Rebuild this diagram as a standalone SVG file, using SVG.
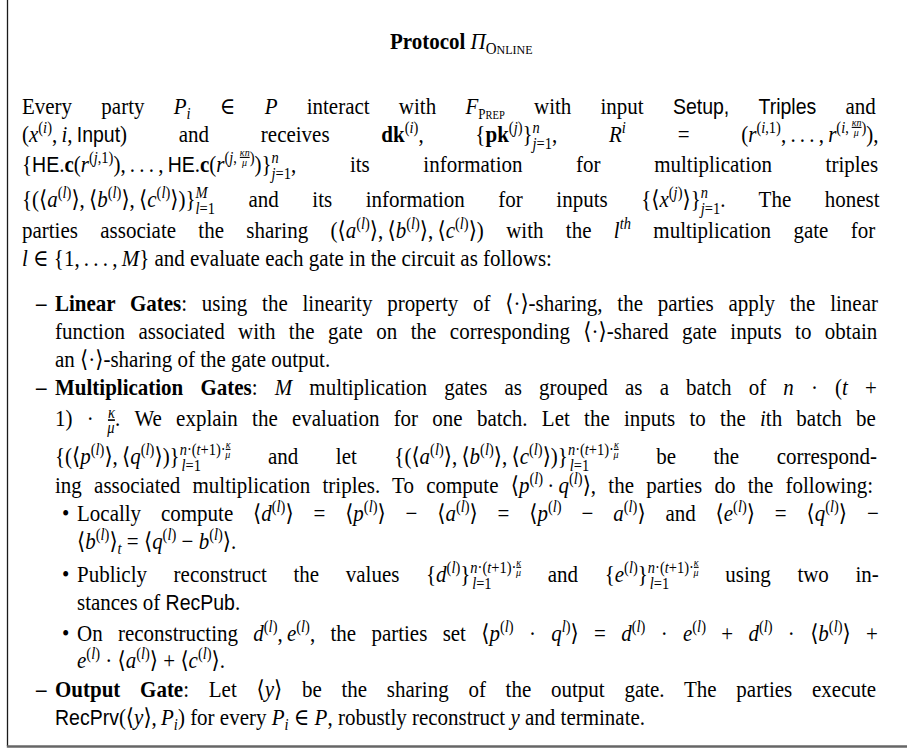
<svg xmlns="http://www.w3.org/2000/svg" width="907" height="749" viewBox="0 0 907 749">
<style>
text{font-family:"Liberation Serif","Times New Roman","DejaVu Serif","DejaVu Sans",serif;font-size:21px;fill:#000}
.i{font-style:italic}
.b{font-weight:bold}
.sf{font-family:"Liberation Sans",Arial,"DejaVu Sans",sans-serif;font-size:19.5px;font-style:normal}
.s{font-size:14.5px}
.ss{font-size:10px}
.u{text-decoration:underline}
</style>
<rect width="907" height="749" fill="#fff"/>
<g id="frame">
<line x1="7.5" y1="0" x2="7.5" y2="746" stroke="#1a1a1a" stroke-width="1.3"/>
<line x1="6.8" y1="746.5" x2="907" y2="746.5" stroke="#666" stroke-width="2.6"/>
</g>
<g id="content" transform="matrix(1 0 0 1.12 0 0)">
<g id="title">
<text x="390" y="43.8"><tspan class="b">Protocol </tspan><tspan class="i">Π</tspan><tspan y="47.8" font-size="15">O</tspan><tspan font-size="12">NLINE</tspan></text>
</g>
<g id="intro">
<text x="22" y="101.8" word-spacing="24">Every party <tspan class="i">P</tspan><tspan class="i s" y="106.3">i</tspan><tspan y="101.8"> ∈ </tspan><tspan class="i">P</tspan> interact with <tspan class="i">F</tspan><tspan y="106.3" font-size="13">P</tspan><tspan font-size="10.5">REP</tspan><tspan y="101.8"> with input </tspan><tspan class="sf">Setup,</tspan> <tspan class="sf">Triples</tspan> and</text>
<text x="22" y="126.8" word-spacing="46.5">(<tspan class="i">x</tspan><tspan class="s" y="118.8">(</tspan><tspan class="s i">i</tspan><tspan class="s">)</tspan><tspan y="126.8">,&#8201;</tspan><tspan class="i">i</tspan>,&#8201;<tspan class="sf">Input</tspan>) and receives <tspan class="b">dk</tspan><tspan class="s" y="118.8">(</tspan><tspan class="s i">i</tspan><tspan class="s">)</tspan><tspan y="126.8">, {</tspan><tspan class="b">pk</tspan><tspan class="s" y="118.8">(</tspan><tspan class="s i">j</tspan><tspan class="s">)</tspan><tspan y="126.8">}</tspan><tspan class="s i" y="118.8">n</tspan><tspan class="s" y="132.8" dx="-7.25"><tspan class="i">j</tspan>=1</tspan><tspan y="126.8">, </tspan><tspan class="i">R</tspan><tspan class="s i" y="118.8">i</tspan><tspan y="126.8"> = (</tspan><tspan class="i">r</tspan><tspan class="s" y="118.8">(</tspan><tspan class="s i">i</tspan><tspan class="s">,1)</tspan><tspan y="126.8">,&#8201;.&#8201;.&#8201;.&#8201;,&#8201;</tspan><tspan class="i">r</tspan><tspan class="s" y="118.8">(</tspan><tspan class="s i">i</tspan><tspan class="s">,&#8201;</tspan><tspan class="ss i u" y="112.3">κn</tspan><tspan class="ss i" y="121.3" dx="-7.75">μ</tspan><tspan class="s" y="118.8" dx="2.75">)</tspan><tspan y="126.8">),</tspan></text>
<text x="22" y="153.6" word-spacing="48.4">{<tspan class="sf">HE</tspan>.<tspan class="b">c</tspan>(<tspan class="i">r</tspan><tspan class="s" y="145.6">(</tspan><tspan class="s i">j</tspan><tspan class="s">,1)</tspan><tspan y="153.6">),&#8201;.&#8201;.&#8201;.&#8201;,&#8201;</tspan><tspan class="sf">HE</tspan>.<tspan class="b">c</tspan>(<tspan class="i">r</tspan><tspan class="s" y="145.6">(</tspan><tspan class="s i">j</tspan><tspan class="s">,&#8201;</tspan><tspan class="ss i u" y="139.1">κn</tspan><tspan class="ss i" y="148.1" dx="-7.75">μ</tspan><tspan class="s" y="145.6" dx="2.75">)</tspan><tspan y="153.6">)}</tspan><tspan class="s i" y="145.6">n</tspan><tspan class="s" y="159.6" dx="-7.25"><tspan class="i">j</tspan>=1</tspan><tspan y="153.6">, its information for multiplication triples</tspan></text>
<text x="22" y="184.8" word-spacing="28.3">{(⟨<tspan class="i">a</tspan><tspan class="s" y="176.8">(</tspan><tspan class="s i">l</tspan><tspan class="s">)</tspan><tspan y="184.8">⟩,&#8201;⟨</tspan><tspan class="i">b</tspan><tspan class="s" y="176.8">(</tspan><tspan class="s i">l</tspan><tspan class="s">)</tspan><tspan y="184.8">⟩,&#8201;⟨</tspan><tspan class="i">c</tspan><tspan class="s" y="176.8">(</tspan><tspan class="s i">l</tspan><tspan class="s">)</tspan><tspan y="184.8">⟩)}</tspan><tspan class="s i" y="176.8">M</tspan><tspan class="s" y="190.8" dx="-12.1"><tspan class="i">l</tspan>=1</tspan><tspan y="184.8"> and its information for inputs {⟨</tspan><tspan class="i">x</tspan><tspan class="s" y="176.8">(</tspan><tspan class="s i">j</tspan><tspan class="s">)</tspan><tspan y="184.8">⟩}</tspan><tspan class="s i" y="176.8">n</tspan><tspan class="s" y="190.8" dx="-7.25"><tspan class="i">j</tspan>=1</tspan><tspan y="184.8">. The honest</tspan></text>
<text x="22" y="212.5" word-spacing="17.1">parties associate the sharing (⟨<tspan class="i">a</tspan><tspan class="s" y="204.5">(</tspan><tspan class="s i">l</tspan><tspan class="s">)</tspan><tspan y="212.5">⟩,&#8201;⟨</tspan><tspan class="i">b</tspan><tspan class="s" y="204.5">(</tspan><tspan class="s i">l</tspan><tspan class="s">)</tspan><tspan y="212.5">⟩,&#8201;⟨</tspan><tspan class="i">c</tspan><tspan class="s" y="204.5">(</tspan><tspan class="s i">l</tspan><tspan class="s">)</tspan><tspan y="212.5">⟩) with the </tspan><tspan class="i">l</tspan><tspan class="s i" y="204.5">th</tspan><tspan y="212.5"> multiplication gate for</tspan></text>
<text x="22" y="237.5"><tspan class="i">l</tspan> ∈ {1,&#8201;.&#8201;.&#8201;.&#8201;,&#8201;<tspan class="i">M</tspan>} and evaluate each gate in the circuit as follows:</text>
</g>
<g id="linear-gates">
<text x="36" y="277.7" class="b">–</text>
<text x="55" y="277.7" word-spacing="9.5"><tspan class="b">Linear Gates</tspan>: using the linearity property of ⟨·⟩-sharing, the parties apply the linear</text>
<text x="55" y="302.7" word-spacing="8.2">function associated with the gate on the corresponding ⟨·⟩-shared gate inputs to obtain</text>
<text x="55" y="327.7">an ⟨·⟩-sharing of the gate output.</text>
</g>
<g id="multiplication-gates">
<text x="36" y="352.7" class="b">–</text>
<text x="55" y="352.7" word-spacing="11.9"><tspan class="b">Multiplication Gates</tspan>: <tspan class="i">M</tspan> multiplication gates as grouped as a batch of <tspan class="i">n</tspan> · (<tspan class="i">t</tspan> +</text>
<text x="55" y="380.4" word-spacing="9">1) · <tspan class="s i u" y="373.4">κ</tspan><tspan class="s i" y="387" dx="-7.65">μ</tspan><tspan y="380.4" dx="0.35">. We explain the evaluation for one batch. Let the inputs to the </tspan><tspan class="i">i</tspan>th batch be</text>
<text x="55" y="414.3" word-spacing="32.3">{(⟨<tspan class="i">p</tspan><tspan class="s" y="406.3">(</tspan><tspan class="s i">l</tspan><tspan class="s">)</tspan><tspan y="414.3">⟩,&#8201;⟨</tspan><tspan class="i">q</tspan><tspan class="s" y="406.3">(</tspan><tspan class="s i">l</tspan><tspan class="s">)</tspan><tspan y="414.3">⟩)}</tspan><tspan class="s i" y="406.3">n</tspan><tspan class="s">·(</tspan><tspan class="s i">t</tspan><tspan class="s">+1)·</tspan><tspan class="ss i u" y="399.8">κ</tspan><tspan class="ss i" y="408.8" dx="-5.25">μ</tspan><tspan class="s" y="420.3" dx="-48.75"><tspan class="i">l</tspan>=1</tspan><tspan y="414.3" dx="29.5"> and let {(⟨</tspan><tspan class="i">a</tspan><tspan class="s" y="406.3">(</tspan><tspan class="s i">l</tspan><tspan class="s">)</tspan><tspan y="414.3">⟩,&#8201;⟨</tspan><tspan class="i">b</tspan><tspan class="s" y="406.3">(</tspan><tspan class="s i">l</tspan><tspan class="s">)</tspan><tspan y="414.3">⟩,&#8201;⟨</tspan><tspan class="i">c</tspan><tspan class="s" y="406.3">(</tspan><tspan class="s i">l</tspan><tspan class="s">)</tspan><tspan y="414.3">⟩)}</tspan><tspan class="s i" y="406.3">n</tspan><tspan class="s">·(</tspan><tspan class="s i">t</tspan><tspan class="s">+1)·</tspan><tspan class="ss i u" y="399.8">κ</tspan><tspan class="ss i" y="408.8" dx="-5.25">μ</tspan><tspan class="s" y="420.3" dx="-48.75"><tspan class="i">l</tspan>=1</tspan><tspan y="414.3" dx="29.5"> be the correspond-</tspan></text>
<text x="55" y="440.2" word-spacing="7">ing associated multiplication triples. To compute ⟨<tspan class="i">p</tspan><tspan class="s" y="432.2">(</tspan><tspan class="s i">l</tspan><tspan class="s">)</tspan><tspan y="440.2">&#8201;·&#8201;</tspan><tspan class="i">q</tspan><tspan class="s" y="432.2">(</tspan><tspan class="s i">l</tspan><tspan class="s">)</tspan><tspan y="440.2">⟩, the parties do the following:</tspan></text>
<text x="62" y="465.2">•</text>
<text x="77" y="465.2" word-spacing="14.6">Locally compute ⟨<tspan class="i">d</tspan><tspan class="s" y="457.2">(</tspan><tspan class="s i">l</tspan><tspan class="s">)</tspan><tspan y="465.2">⟩ = ⟨</tspan><tspan class="i">p</tspan><tspan class="s" y="457.2">(</tspan><tspan class="s i">l</tspan><tspan class="s">)</tspan><tspan y="465.2">⟩ − ⟨</tspan><tspan class="i">a</tspan><tspan class="s" y="457.2">(</tspan><tspan class="s i">l</tspan><tspan class="s">)</tspan><tspan y="465.2">⟩ = ⟨</tspan><tspan class="i">p</tspan><tspan class="s" y="457.2">(</tspan><tspan class="s i">l</tspan><tspan class="s">)</tspan><tspan y="465.2"> − </tspan><tspan class="i">a</tspan><tspan class="s" y="457.2">(</tspan><tspan class="s i">l</tspan><tspan class="s">)</tspan><tspan y="465.2">⟩ and ⟨</tspan><tspan class="i">e</tspan><tspan class="s" y="457.2">(</tspan><tspan class="s i">l</tspan><tspan class="s">)</tspan><tspan y="465.2">⟩ = ⟨</tspan><tspan class="i">q</tspan><tspan class="s" y="457.2">(</tspan><tspan class="s i">l</tspan><tspan class="s">)</tspan><tspan y="465.2">⟩ −</tspan></text>
<text x="77" y="490.2">⟨<tspan class="i">b</tspan><tspan class="s" y="482.2">(</tspan><tspan class="s i">l</tspan><tspan class="s">)</tspan><tspan y="490.2">⟩</tspan><tspan class="s i" y="494.7">t</tspan><tspan y="490.2"> = ⟨</tspan><tspan class="i">q</tspan><tspan class="s" y="482.2">(</tspan><tspan class="s i">l</tspan><tspan class="s">)</tspan><tspan y="490.2"> − </tspan><tspan class="i">b</tspan><tspan class="s" y="482.2">(</tspan><tspan class="s i">l</tspan><tspan class="s">)</tspan><tspan y="490.2">⟩.</tspan></text>
<text x="62" y="519.6">•</text>
<text x="77" y="519.6" word-spacing="21.4">Publicly reconstruct the values {<tspan class="i">d</tspan><tspan class="s" y="511.6">(</tspan><tspan class="s i">l</tspan><tspan class="s">)</tspan><tspan y="519.6">}</tspan><tspan class="s i" y="511.6">n</tspan><tspan class="s">·(</tspan><tspan class="s i">t</tspan><tspan class="s">+1)·</tspan><tspan class="ss i u" y="505.1">κ</tspan><tspan class="ss i" y="514.1" dx="-5.25">μ</tspan><tspan class="s" y="525.6" dx="-48.75"><tspan class="i">l</tspan>=1</tspan><tspan y="519.6" dx="29.5"> and {</tspan><tspan class="i">e</tspan><tspan class="s" y="511.6">(</tspan><tspan class="s i">l</tspan><tspan class="s">)</tspan><tspan y="519.6">}</tspan><tspan class="s i" y="511.6">n</tspan><tspan class="s">·(</tspan><tspan class="s i">t</tspan><tspan class="s">+1)·</tspan><tspan class="ss i u" y="505.1">κ</tspan><tspan class="ss i" y="514.1" dx="-5.25">μ</tspan><tspan class="s" y="525.6" dx="-48.75"><tspan class="i">l</tspan>=1</tspan><tspan y="519.6" dx="29.5"> using two in-</tspan></text>
<text x="77" y="544.6">stances of <tspan class="sf">RecPub</tspan>.</text>
<text x="62" y="572.3">•</text>
<text x="77" y="572.3" word-spacing="10.05">On reconstructing <tspan class="i">d</tspan><tspan class="s" y="564.3">(</tspan><tspan class="s i">l</tspan><tspan class="s">)</tspan><tspan y="572.3">,&#8201;</tspan><tspan class="i">e</tspan><tspan class="s" y="564.3">(</tspan><tspan class="s i">l</tspan><tspan class="s">)</tspan><tspan y="572.3">, the parties set ⟨</tspan><tspan class="i">p</tspan><tspan class="s" y="564.3">(</tspan><tspan class="s i">l</tspan><tspan class="s">)</tspan><tspan y="572.3"> · </tspan><tspan class="i">q</tspan><tspan class="s i" y="564.3">l</tspan><tspan class="s">)</tspan><tspan y="572.3">⟩ = </tspan><tspan class="i">d</tspan><tspan class="s" y="564.3">(</tspan><tspan class="s i">l</tspan><tspan class="s">)</tspan><tspan y="572.3"> · </tspan><tspan class="i">e</tspan><tspan class="s" y="564.3">(</tspan><tspan class="s i">l</tspan><tspan class="s">)</tspan><tspan y="572.3"> + </tspan><tspan class="i">d</tspan><tspan class="s" y="564.3">(</tspan><tspan class="s i">l</tspan><tspan class="s">)</tspan><tspan y="572.3"> · ⟨</tspan><tspan class="i">b</tspan><tspan class="s" y="564.3">(</tspan><tspan class="s i">l</tspan><tspan class="s">)</tspan><tspan y="572.3">⟩ +</tspan></text>
<text x="77" y="596.4"><tspan class="i">e</tspan><tspan class="s" y="588.4">(</tspan><tspan class="s i">l</tspan><tspan class="s">)</tspan><tspan y="596.4"> · ⟨</tspan><tspan class="i">a</tspan><tspan class="s" y="588.4">(</tspan><tspan class="s i">l</tspan><tspan class="s">)</tspan><tspan y="596.4">⟩ + ⟨</tspan><tspan class="i">c</tspan><tspan class="s" y="588.4">(</tspan><tspan class="s i">l</tspan><tspan class="s">)</tspan><tspan y="596.4">⟩.</tspan></text>
</g>
<g id="output-gate">
<text x="36" y="622.3" class="b">–</text>
<text x="55" y="622.3" word-spacing="14.5"><tspan class="b">Output Gate</tspan>: Let ⟨<tspan class="i">y</tspan>⟩ be the sharing of the output gate. The parties execute</text>
<text x="55" y="647.3"><tspan class="sf">RecPrv</tspan>(⟨<tspan class="i">y</tspan>⟩,&#8201;<tspan class="i">P</tspan><tspan class="s i" y="651.8">i</tspan><tspan y="647.3">) for every </tspan><tspan class="i">P</tspan><tspan class="s i" y="651.8">i</tspan><tspan y="647.3"> ∈ </tspan><tspan class="i">P</tspan>, robustly reconstruct <tspan class="i">y</tspan> and terminate.</text>
</g>
</g>
</svg>
